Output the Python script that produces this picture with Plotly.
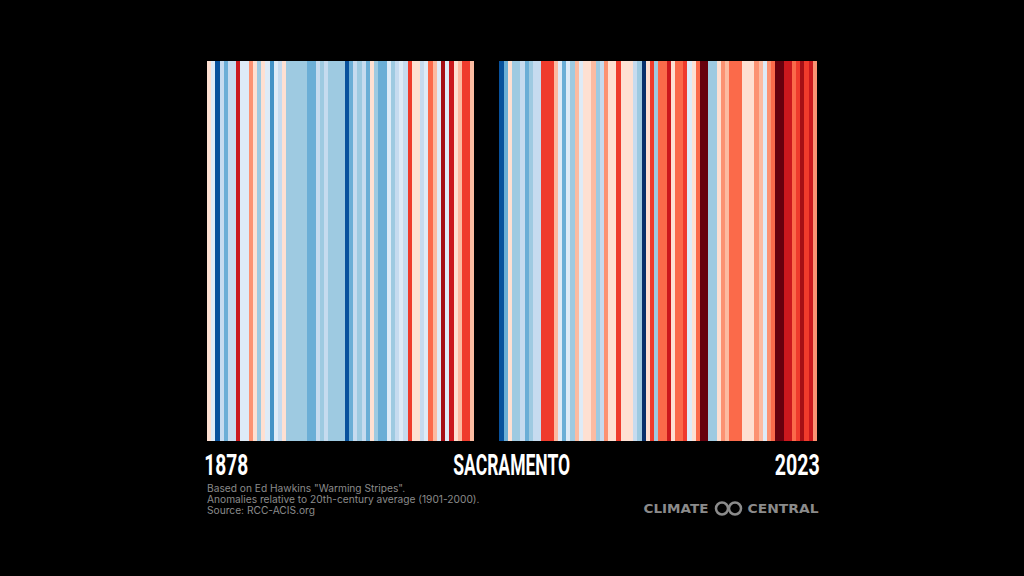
import plotly.graph_objects as go

# warming stripes, Sacramento. anomaly in deg F
years = list(range(1878, 2024))
anom_1878_1941 = [
    0.25, -0.25, -3.25, -0.75, -1.75, -0.75, -0.75, 2.75, -0.25, -0.25,
    1.25, 0.25, -1.25, 0.25, -0.25, -2.25, -0.25, -0.75, 0.25, -1.25,
    -1.25, -1.25, -1.25, -1.25, -1.75, -1.75, -0.75, -1.25, -0.75, -1.25,
    -1.25, -1.25, -1.25, -3.25, -1.75, -0.75, -1.25, -0.75, -1.75, 0.25,
    -1.25, -1.75, -1.75, -0.25, -1.25, -0.75, -0.25, -0.75, 2.25, 0.25,
    0.25, -0.75, -0.25, 1.75, 0.75, -0.25, 3.25, -0.25, 2.75, 0.25,
    0.75, 2.25, 2.25, 0.75,
]
# no stripes for these years in the picture
anom_gap = [None] * 6
anom_1948_2023 = [
    -3.25, -1.75, 0.25, -1.25, -1.25, -0.75, -1.75, -1.25, -0.75, -0.75,
    2.25, 2.25, 2.25, 0.75, -0.25, -1.75, -0.25, -1.25, 0.75, -0.25,
    0.25, 0.25, 0.75, -1.25, -0.75, 1.25, 0.25, 0.25, 2.25, 0.25,
    0.25, 0.25, -0.75, -1.25, -3.75, 0.25, 2.25, -1.25, 1.75, 1.75,
    2.75, 0.25, 1.75, 1.75, 2.25, -0.25, 0.25, 1.75, 3.75, 3.75,
    -1.25, -1.25, 0.25, 1.25, 0.75, 1.75, 1.75, 1.75, 0.25, 0.25,
    0.25, 1.25, 0.75, -0.25, 1.25, 1.75, 3.75, 3.75, 2.75, 2.75,
    1.75, 2.25, 3.25, 2.25, 2.75, 1.25,
]
anomalies = anom_1878_1941 + anom_gap + anom_1948_2023

stripe_colors = ["#08306b", "#08519c", "#2171b5", "#4292c6", "#6baed6", "#9ecae1", "#c6dbef", "#deebf7",
                 "#fee0d2", "#fcbba1", "#fc9272", "#fb6a4a", "#ef3b2c", "#cb181d", "#a50f15", "#67000d"]

# discrete colour bands
n = len(stripe_colors)
colorscale = []
for k, c in enumerate(stripe_colors):
    colorscale.append([k / n, c])
    colorscale.append([(k + 1) / n, c])

fig = go.Figure(go.Heatmap(
    x=years,
    y=["stripes"],
    z=[anomalies],
    zmin=-4,
    zmax=4,
    colorscale=colorscale,
    showscale=False,
    hoverongaps=False,
))

L, R, T, B = 207, 817, 61, 441


def px(x):
    return (x - L) / (R - L)


def py(y):
    return (B - y) / (B - T)


def label(text, x, y, anchor, size, color, family, bold=False):
    fig.add_annotation(
        text="<b>" + text + "</b>" if bold else text,
        x=px(x), y=py(y), xref="paper", yref="paper",
        xanchor=anchor, yanchor="middle", showarrow=False,
        font=dict(size=size, color=color, family=family),
        borderpad=0, align="left",
    )


# headline font is condensed, none installed, so the text gets squeezed below
label("1878", 226, 465, "center", 29, "#ffffff", "Roboto", True)
label("SACRAMENTO", 511.5, 465, "center", 29, "#ffffff", "Roboto", True)
label("2023", 797.5, 465, "center", 29, "#ffffff", "Roboto", True)

grey = "#8b8b8b"
label("Based on Ed Hawkins \"Warming Stripes\".", 205.5, 488, "left", 10.2, grey, "Inter")
label("Anomalies relative to 20th-century average (1901-2000).", 205.5, 498.5, "left", 10.2, grey, "Inter")
label("Source: RCC-ACIS.org", 205.5, 509.5, "left", 10.2, grey, "Inter")

label("CLIMATE", 675.5, 508.5, "center", 12.5, grey, "DejaVu Sans", True)
label("CENTRAL", 782.5, 508.5, "center", 12.5, grey, "DejaVu Sans", True)

# logo rings
for cx in (722, 735):
    fig.add_shape(
        type="circle", xref="paper", yref="paper",
        x0=px(cx - 6), x1=px(cx + 6), y0=py(514.5), y1=py(502.5),
        line=dict(color=grey, width=2.5),
    )

fig.update_xaxes(range=[1877.5, 2023.5], visible=False)
fig.update_yaxes(visible=False)
fig.update_layout(
    width=1024,
    height=576,
    margin=dict(l=L, r=1024 - R, t=T, b=576 - B),
    paper_bgcolor="#000000",
    plot_bgcolor="#000000",
    showlegend=False,
)

# drop the page margin, fit the labels to their widths in the picture
post_script = """
document.body.style.margin = '0';
document.body.style.background = '#000';
var widths = {'1878': 44, 'SACRAMENTO': 117, '2023': 45, 'CLIMATE': 65, 'CENTRAL': 71};
document.querySelectorAll('text.annotation-text').forEach(function (t) {
    var w = widths[t.textContent];
    if (w) {
        var natural = t.getComputedTextLength();
        t.setAttribute('x', parseFloat(t.getAttribute('x')) + (natural - w) / 2);
        t.setAttribute('textLength', w);
        t.setAttribute('lengthAdjust', 'spacingAndGlyphs');
    }
});
"""

fig.write_html("out.html", post_script=post_script, config=dict(displayModeBar=False))
